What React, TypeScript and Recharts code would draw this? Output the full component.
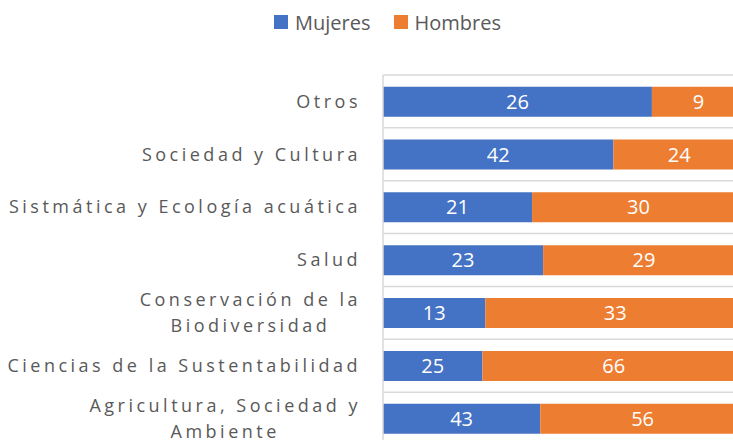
import React from "react";
import { BarChart, Bar, XAxis, YAxis, CartesianGrid, Legend, LabelList } from "recharts";

const categories = [
  "Otros",
  "Sociedad y Cultura",
  "Sistmática y Ecología acuática",
  "Salud",
  "Conservación de la Biodiversidad",
  "Ciencias de la Sustentabilidad",
  "Agricultura, Sociedad y Ambiente",
];
const mujeres = [26, 42, 21, 23, 13, 25, 43];
const hombres = [9, 24, 30, 29, 33, 66, 56];
const seriesNames = ["Mujeres", "Hombres"];

const data = categories.map((name, i) => ({
  name,
  mujeres: mujeres[i],
  hombres: hombres[i],
}));

const BLUE = "#4472C4";
const ORANGE = "#ED7D31";
const TEXT = "#595959";
const GRID = "#D9D9D9";
const FONT = "'Open Sans', sans-serif";
const TICK_SIZE = 18;
const TICK_SPACING = 3.5;
const MAX_LABEL = 360;

let ctx: CanvasRenderingContext2D | null = null;
const measure = (s: string) => {
  if (!ctx) ctx = document.createElement("canvas").getContext("2d");
  ctx!.font = `${TICK_SIZE}px 'Open Sans'`;
  return ctx!.measureText(s).width + s.length * TICK_SPACING;
};

// greedy word wrap, like Excel does for long category names
const wrap = (text: string, max: number) => {
  const words = text.split(" ");
  const lines: string[] = [];
  let cur = "";
  words.forEach((w) => {
    const next = cur ? cur + " " + w : w;
    if (cur && measure(next) > max) {
      lines.push(cur);
      cur = w;
    } else {
      cur = next;
    }
  });
  if (cur) lines.push(cur);
  return lines;
};

const CategoryTick = ({ x, y, payload }: any) => {
  const lines = wrap(payload.value, MAX_LABEL);
  const right = x - 14;
  const maxW = Math.max(...lines.map(measure));
  const lh = 26;
  const y0 = y - ((lines.length - 1) * lh) / 2;
  return (
    <g>
      {lines.map((l, i) => (
        <text
          key={i}
          x={lines.length === 1 ? right : right - maxW / 2}
          y={y0 + i * lh}
          dy="0.35em"
          textAnchor={lines.length === 1 ? "end" : "middle"}
          fill={TEXT}
          fontSize={TICK_SIZE}
          fontFamily={FONT}
          letterSpacing={TICK_SPACING}
        >
          {l}
        </text>
      ))}
    </g>
  );
};

const LegendContent = ({ payload }: any) => {
  const items = [...(payload || [])].sort(
    (a: any, b: any) => seriesNames.indexOf(a.value) - seriesNames.indexOf(b.value)
  );
  return (
    <div
      style={{
        height: 40,
        display: "flex",
        justifyContent: "center",
        alignItems: "center",
        gap: 23,
        fontFamily: FONT,
        fontSize: 20,
        color: TEXT,
      }}
    >
      {items.map((p: any) => (
        <span key={p.value} style={{ display: "flex", alignItems: "center" }}>
          <span style={{ width: 14, height: 14, background: p.color, marginRight: 7 }} />
          {p.value}
        </span>
      ))}
    </div>
  );
};

export default function App() {
  return (
    <div
      style={{
        position: "absolute",
        top: 0,
        left: 0,
        width: 733,
        height: 440,
        overflow: "hidden",
        background: "#fff",
      }}
    >
      <BarChart
        width={775}
        height={460}
        data={data}
        layout="vertical"
        stackOffset="expand"
        barCategoryGap="22%"
        margin={{ top: 35, right: 30, bottom: 15, left: 0 }}
      >
        <CartesianGrid
          vertical={false}
          stroke={GRID}
          strokeWidth={1.5}
          horizontalCoordinatesGenerator={({ offset }: any) =>
            Array.from(
              { length: categories.length + 1 },
              (_, i) => offset.top + (i * offset.height) / categories.length
            )
          }
        />
        <XAxis type="number" hide domain={[0, 1]} />
        <YAxis
          type="category"
          dataKey="name"
          width={383}
          tickLine={false}
          axisLine={{ stroke: GRID, strokeWidth: 1.5 }}
          tick={<CategoryTick />}
          interval={0}
        />
        <Legend
          verticalAlign="top"
          wrapperStyle={{ top: 2, left: 0, width: 775 }}
          content={<LegendContent />}
        />
        <Bar dataKey="mujeres" name={seriesNames[0]} stackId="a" fill={BLUE} isAnimationActive={false}>
          <LabelList dataKey="mujeres" position="center" fill="#fff" fontSize={20} fontFamily={FONT} />
        </Bar>
        <Bar dataKey="hombres" name={seriesNames[1]} stackId="a" fill={ORANGE} isAnimationActive={false}>
          <LabelList dataKey="hombres" position="center" fill="#fff" fontSize={20} fontFamily={FONT} />
        </Bar>
      </BarChart>
    </div>
  );
}
